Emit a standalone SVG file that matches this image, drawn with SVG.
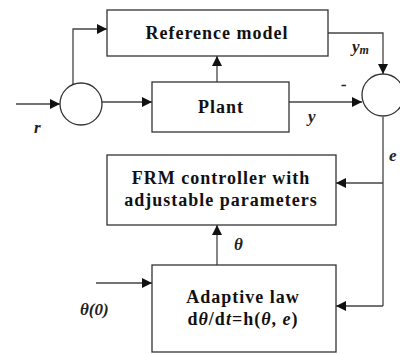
<svg xmlns="http://www.w3.org/2000/svg" width="400" height="354" viewBox="0 0 400 354">
<defs>
<marker id="ah" viewBox="0 0 10 10" refX="10" refY="5" markerWidth="10" markerHeight="10" markerUnits="userSpaceOnUse" orient="auto">
<path d="M0,0 L10,5 L0,10 Z" fill="#111"/>
</marker>
<style>
.box{fill:#fff;stroke:#333;stroke-width:1.3}
.ln{fill:none;stroke:#444;stroke-width:1.3}
.arr{fill:none;stroke:#444;stroke-width:1.3;marker-end:url(#ah)}
.t{font-weight:bold;font-size:18px;letter-spacing:1px;fill:#111;text-anchor:middle}
.lb{font-weight:bold;font-style:italic;font-size:17px;fill:#222}
</style>
</defs>
<rect width="400" height="354" fill="#fff"/>
<g id="connectors">
<path class="arr" d="M16,104 L60,104"/>
<path class="arr" d="M73,84 L73,29 L107,29"/>
<path class="arr" d="M102,102 L152,102"/>
<path class="arr" d="M217,82 L217,56"/>
<path class="arr" d="M328,33 L383,33 L383,74"/>
<path class="arr" d="M289,102 L362,102"/>
<path class="ln" d="M383,117 L383,306"/>
<path class="arr" d="M383,183 L336,183"/>
<path class="arr" d="M383,306 L336,306"/>
<path class="arr" d="M217,265 L217,225"/>
<path class="arr" d="M96,283 L152,283"/>
</g>
<g id="sum1"><circle cx="81" cy="104" r="21" fill="#fff" stroke="#333" stroke-width="1.3"/></g>
<g id="sum2"><circle cx="383" cy="95" r="21" fill="#fff" stroke="#333" stroke-width="1.3"/></g>
<g id="reference-model">
<rect class="box" x="107" y="10" width="221" height="46"/>
<text class="t" font-family="Liberation Serif" x="217" y="39">Reference model</text>
</g>
<g id="plant">
<rect class="box" x="152" y="82" width="137" height="50"/>
<text class="t" font-family="Liberation Serif" x="221" y="113">Plant</text>
</g>
<g id="frm-controller">
<rect class="box" x="107" y="155" width="229" height="70"/>
<text class="t" font-family="Liberation Serif" x="221" y="184">FRM controller with</text>
<text class="t" font-family="Liberation Serif" x="221" y="206">adjustable parameters</text>
</g>
<g id="adaptive-law">
<rect class="box" x="152" y="265" width="184" height="87"/>
<text class="t" font-family="Liberation Serif" x="243" y="303">Adaptive law</text>
<text class="t" font-family="Liberation Serif" x="243" y="325">d<tspan font-style="italic">θ</tspan>/d<tspan font-style="italic">t</tspan>=h(<tspan font-style="italic">θ</tspan>, <tspan font-style="italic">e</tspan>)</text>
</g>
<g id="labels">
<text class="lb" font-family="Liberation Serif" x="34" y="133">r</text>
<text class="lb" font-family="Liberation Serif" x="352" y="52">y<tspan font-size="12" dy="2">m</tspan></text>
<text class="lb" font-family="Liberation Serif" x="341" y="90">-</text>
<text class="lb" font-family="Liberation Serif" x="308" y="122">y</text>
<text class="lb" font-family="Liberation Serif" x="389" y="161">e</text>
<text class="lb" font-family="Liberation Serif" x="234" y="250">θ</text>
<text class="lb" font-family="Liberation Serif" x="80" y="315">θ(0)</text>
</g>
</svg>
